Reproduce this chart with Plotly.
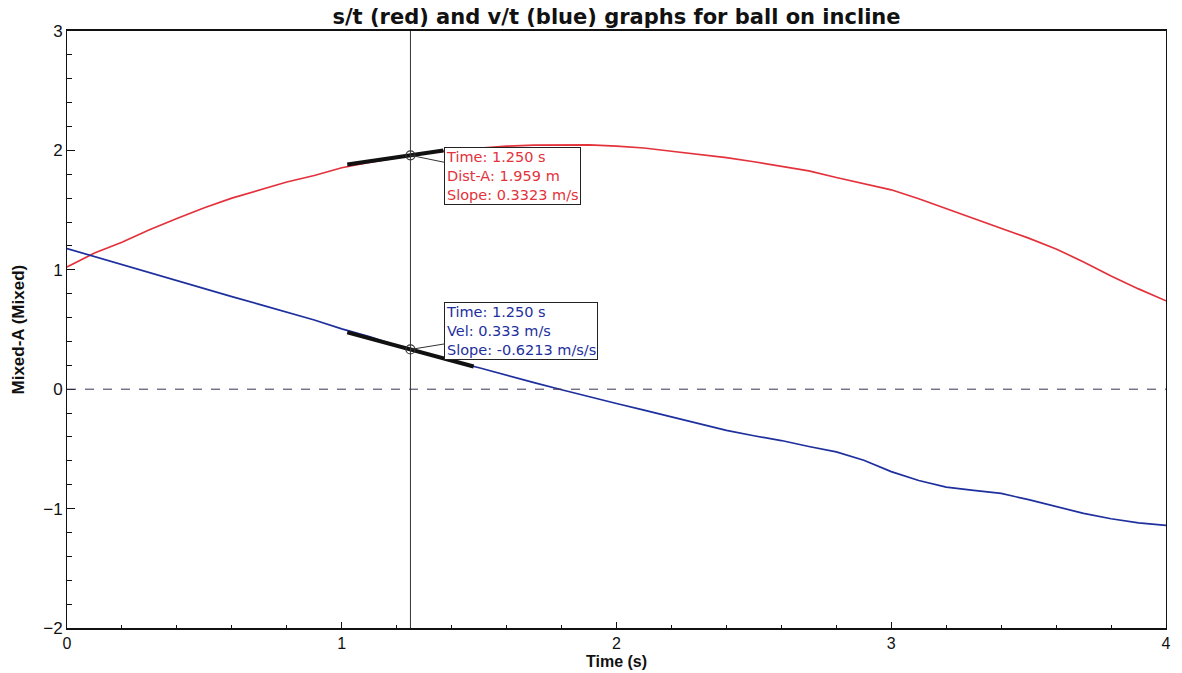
import plotly.graph_objects as go

# Time samples (s)
time_s = [0.0, 0.1, 0.2, 0.3, 0.4, 0.5, 0.6, 0.7, 0.8, 0.9, 1.0, 1.1, 1.2, 1.25, 1.3,
          1.4, 1.5, 1.6, 1.7, 1.8, 1.9, 2.0, 2.1, 2.2, 2.3, 2.4, 2.5, 2.6, 2.7, 2.8,
          2.9, 3.0, 3.1, 3.2, 3.3, 3.4, 3.5, 3.6, 3.7, 3.8, 3.9, 4.0]

# Distance (m) - red trace
dist_m = [1.024, 1.14, 1.23, 1.335, 1.43, 1.52, 1.60, 1.665, 1.735, 1.79, 1.855, 1.90,
          1.94, 1.959, 1.975, 2.00, 2.02, 2.035, 2.045, 2.048, 2.046, 2.035, 2.02, 1.993,
          1.968, 1.94, 1.905, 1.868, 1.828, 1.773, 1.722, 1.67, 1.595, 1.513, 1.43, 1.35,
          1.265, 1.175, 1.066, 0.948, 0.84, 0.74]

# Velocity (m/s) - blue trace
vel_ms = [1.178, 1.11, 1.045, 0.975, 0.91, 0.84, 0.775, 0.71, 0.645, 0.58, 0.505, 0.44,
          0.365, 0.333, 0.30, 0.235, 0.18, 0.115, 0.055, -0.005, -0.065, -0.12, -0.175,
          -0.23, -0.29, -0.345, -0.39, -0.43, -0.48, -0.525, -0.595, -0.69, -0.765, -0.82,
          -0.848, -0.873, -0.925, -0.98, -1.04, -1.085, -1.12, -1.14]

# Cursor readout
cursor_t = 1.25
cursor_dist = 1.959
cursor_dist_slope = 0.3323
cursor_vel = 0.333
cursor_vel_slope = -0.6213
dist_tangent_span = [1.02, 1.37]
vel_tangent_span = [1.02, 1.48]

RED = "#e3323c"
BLUE = "#1e2f9e"
INK = "#111111"

fig = go.Figure()

fig.add_trace(go.Scatter(x=time_s, y=dist_m, mode="lines",
                         line=dict(color=RED, width=1.7), hoverinfo="skip"))
fig.add_trace(go.Scatter(x=time_s, y=vel_ms, mode="lines",
                         line=dict(color=BLUE, width=1.7), hoverinfo="skip"))

# Tangent segments at the cursor
for y0, m, span in [(cursor_dist, cursor_dist_slope, dist_tangent_span),
                    (cursor_vel, cursor_vel_slope, vel_tangent_span)]:
    fig.add_trace(go.Scatter(
        x=span,
        y=[y0 + m * (t - cursor_t) for t in span],
        mode="lines", line=dict(color=INK, width=4), hoverinfo="skip"))

# Cursor points
fig.add_trace(go.Scatter(
    x=[cursor_t, cursor_t], y=[cursor_dist, cursor_vel], mode="markers",
    marker=dict(symbol="circle-open", size=9, color="#333333", line=dict(width=1.2)),
    hoverinfo="skip"))

# Zero line and vertical cursor
fig.add_shape(type="line", xref="paper", x0=0, x1=1, yref="y", y0=0, y1=0,
              line=dict(color="#3c3050", width=1, dash="dash"))
fig.add_shape(type="line", xref="x", x0=cursor_t, x1=cursor_t, yref="paper", y0=0, y1=1,
              line=dict(color="#333333", width=1))

box_font = dict(family="DejaVu Sans", size=14.5)
fig.add_annotation(
    x=cursor_t, y=cursor_dist, xref="x", yref="y",
    text=f"Time: {cursor_t:.3f} s<br>Dist-A: {cursor_dist:.3f} m<br>Slope: {cursor_dist_slope} m/s",
    align="left", font=dict(color=RED, **box_font),
    showarrow=True, arrowhead=0, arrowwidth=1, arrowcolor="#333333",
    ax=102, ay=21, bgcolor="white", bordercolor="#222222", borderwidth=1, borderpad=1)
fig.add_annotation(
    x=cursor_t, y=cursor_vel, xref="x", yref="y",
    text=f"Time: {cursor_t:.3f} s<br>Vel: {cursor_vel:.3f} m/s<br>Slope: {cursor_vel_slope} m/s/s",
    align="left", font=dict(color=BLUE, **box_font),
    showarrow=True, arrowhead=0, arrowwidth=1, arrowcolor="#333333",
    ax=111, ay=-18, bgcolor="white", bordercolor="#222222", borderwidth=1, borderpad=1)

# Axis titles
fig.add_annotation(x=0.5, y=0, xref="paper", yref="paper", yshift=-44,
                   xanchor="center", yanchor="bottom",
                   text="<b>Time (s)</b>", showarrow=False,
                   font=dict(family="Liberation Sans", size=16, color=INK))
fig.add_annotation(x=0, y=0.5, xref="paper", yref="paper", xshift=-49,
                   xanchor="center", yanchor="middle",
                   text="<b>Mixed-A (Mixed)</b>", textangle=-90, showarrow=False,
                   font=dict(family="Liberation Sans", size=17, color=INK))

fig.update_layout(
    width=1182, height=673,
    margin=dict(l=67, r=16, t=31, b=45),
    paper_bgcolor="white", plot_bgcolor="white",
    showlegend=False,
    title=dict(text="<b>s/t (red) and v/t (blue) graphs for ball on incline</b>",
               x=0.5, xref="paper", xanchor="center", y=0.975, yanchor="middle",
               font=dict(family="DejaVu Sans", size=21, color=INK)),
    font=dict(family="Liberation Sans", size=17, color=INK),
)
fig.update_xaxes(range=[0, 4], tickvals=[0, 1, 2, 3, 4], ticks="inside", ticklen=6,
                 tickcolor=INK, tickfont=dict(size=16), showgrid=False, zeroline=False,
                 showline=True, mirror=True, linecolor=INK, linewidth=2,
                 minor=dict(dtick=0.2, ticks="inside", ticklen=3, tickcolor=INK))
fig.update_yaxes(range=[-2, 3], tickvals=[-2, -1, 0, 1, 2, 3], ticks="inside", ticklen=8,
                 tickcolor=INK, tickfont=dict(size=17), showgrid=False, zeroline=False,
                 showline=True, mirror=True, linecolor=INK, linewidth=1,
                 minor=dict(dtick=0.2, ticks="inside", ticklen=5, tickcolor=INK))

fig.write_html("out.html")
